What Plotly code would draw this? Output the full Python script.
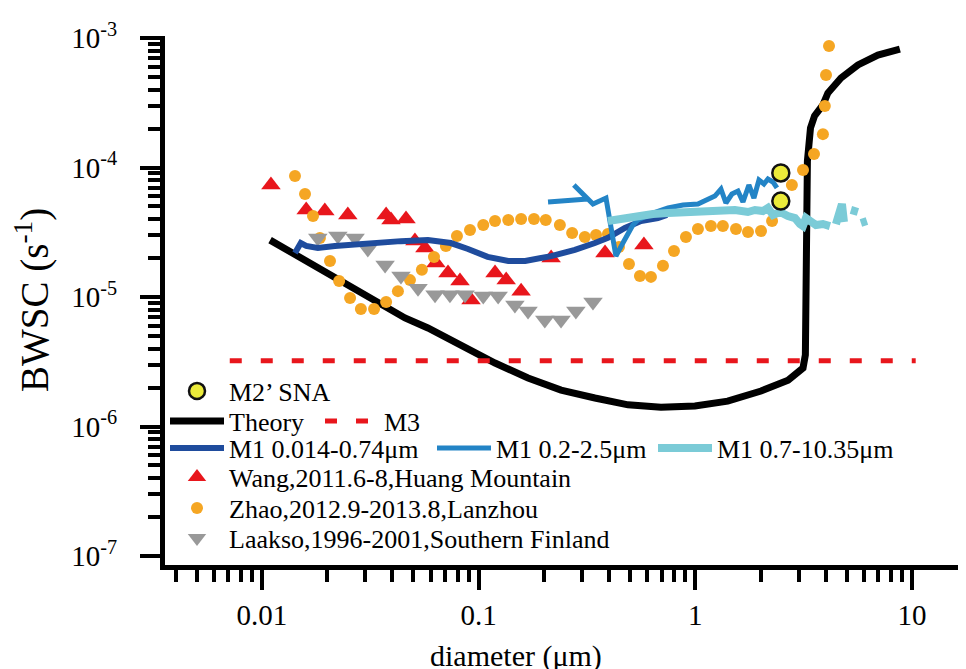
import plotly.graph_objects as go

# ---------------- data ----------------
theory_d = [0.0109, 0.0224, 0.0457, 0.0583, 0.0828, 0.119, 0.169, 0.240, 0.344, 0.489,
            0.694, 0.996, 1.41, 2.01, 2.68, 3.14, 3.22, 3.23, 3.24, 3.26, 3.29, 3.40,
            3.55, 3.88, 4.09, 4.70, 5.63, 6.96, 8.79]
theory_v = [2.75e-5, 1.38e-5, 6.89e-6, 5.77e-6, 4.26e-6, 3.09e-6, 2.37e-6, 1.91e-6, 1.66e-6,
            1.47e-6, 1.41e-6, 1.44e-6, 1.57e-6, 1.88e-6, 2.28e-6, 2.83e-6, 3.57e-6, 8.22e-6,
            2.0e-5, 4.61e-5, 1.12e-4, 2.02e-4, 2.50e-4, 3.04e-4, 3.76e-4, 4.91e-4, 6.19e-4,
            7.39e-4, 8.22e-4]

m3_d = [0.0071, 10.4]
m3_v = [3.22e-6, 3.22e-6]

m1a_d = [0.0142, 0.0151, 0.0160, 0.0181, 0.0217, 0.0308, 0.0438, 0.0583, 0.0744, 0.0893,
         0.110, 0.137, 0.164, 0.216, 0.278, 0.344, 0.395, 0.473, 0.561, 0.672, 0.740]
m1a_v = [2.19e-5, 2.61e-5, 2.48e-5, 2.39e-5, 2.48e-5, 2.61e-5, 2.70e-5, 2.75e-5, 2.61e-5,
         2.35e-5, 2.04e-5, 1.90e-5, 1.90e-5, 2.07e-5, 2.31e-5, 2.61e-5, 2.86e-5, 3.41e-5,
         3.86e-5, 4.07e-5, 4.30e-5]

m1b_d = [0.209, 0.258, 0.319, 0.275, 0.337, 0.387, 0.412, 0.430, 0.463, 0.515, 0.543, 0.637,
         0.748, 0.877, 1.028, 1.143, 1.231, 1.313, 1.384, 1.475, 1.573, 1.659, 1.767, 1.864,
         1.966, 2.073, 2.163, 2.281, 2.380]
m1b_v = [5.41e-5, 5.51e-5, 5.71e-5, 7.33e-5, 5.22e-5, 5.81e-5, 3.12e-5, 2.07e-5, 2.61e-5,
         3.60e-5, 3.93e-5, 4.45e-5, 4.87e-5, 5.13e-5, 5.22e-5, 5.61e-5, 6.02e-5, 6.82e-5,
         5.32e-5, 6.24e-5, 6.58e-5, 5.41e-5, 7.33e-5, 5.81e-5, 8.01e-5, 7.46e-5, 8.15e-5,
         7.73e-5, 6.95e-5]

m1c_d = [0.395, 0.463, 0.526, 0.637, 0.748, 0.877, 1.061, 1.271, 1.523, 1.748, 1.884, 2.051,
         2.163, 2.281, 2.457, 2.675, 2.882, 3.039, 3.137, 3.239, 3.417, 3.602, 3.880, 4.180,
         None, 4.456, 4.749, 4.851, None, 5.224, 5.627, None, 5.810, 6.193]
m1c_v = [3.86e-5, 4.07e-5, 4.22e-5, 4.37e-5, 4.45e-5, 4.53e-5, 4.61e-5, 4.61e-5, 4.70e-5,
         4.53e-5, 4.70e-5, 4.61e-5, 4.87e-5, 4.30e-5, 4.53e-5, 4.22e-5, 4.07e-5, 3.66e-5,
         3.53e-5, 4.07e-5, 3.79e-5, 3.60e-5, 3.66e-5, 3.53e-5, None, 3.66e-5, 5.22e-5,
         3.79e-5, None, 4.70e-5, 4.53e-5, None, 3.73e-5, 3.86e-5]

sna_d = [2.48, 2.48]
sna_v = [9.07e-5, 5.51e-5]

wang_d = [0.0110, 0.0160, 0.0195, 0.0249, 0.0374, 0.0394, 0.0462, 0.0508, 0.0565, 0.0635,
          0.0722, 0.0820, 0.0922, 0.119, 0.134, 0.157, 0.216, 0.383, 0.579]
wang_v = [7.33e-5, 4.70e-5, 4.61e-5, 4.30e-5, 4.30e-5, 3.93e-5, 4.00e-5, 2.71e-5, 2.39e-5,
          1.83e-5, 1.53e-5, 1.33e-5, 9.48e-6, 1.53e-5, 1.35e-5, 1.11e-5, 2.00e-5, 2.19e-5,
          2.52e-5]

zhao_d = [0.0142, 0.0158, 0.0172, 0.0185, 0.0206, 0.0227, 0.0255, 0.0286, 0.0329, 0.0374,
          0.0424, 0.0482, 0.0547, 0.0622, 0.0706, 0.0794, 0.0912, 0.105, 0.119, 0.137,
          0.157, 0.180, 0.204, 0.237, 0.270, 0.309, 0.348, 0.395, 0.444, 0.494, 0.555,
          0.624, 0.709, 0.797, 0.905, 1.028, 1.18, 1.34, 1.54, 1.75, 2.01, 2.26, 2.79,
          3.14, 3.53, 3.88, 3.96, 4.01, 4.14]
zhao_v = [8.60e-5, 6.24e-5, 4.22e-5, 2.86e-5, 1.90e-5, 1.33e-5, 9.82e-6, 8.08e-6, 8.08e-6,
          9.15e-6, 1.11e-5, 1.35e-5, 1.62e-5, 2.04e-5, 2.48e-5, 2.96e-5, 3.29e-5, 3.60e-5,
          3.86e-5, 3.93e-5, 4.00e-5, 4.00e-5, 3.93e-5, 3.60e-5, 3.12e-5, 2.91e-5, 3.01e-5,
          3.07e-5, 2.43e-5, 1.80e-5, 1.45e-5, 1.43e-5, 1.74e-5, 2.27e-5, 2.91e-5, 3.35e-5,
          3.53e-5, 3.53e-5, 3.35e-5, 3.18e-5, 3.23e-5, 3.86e-5, 7.33e-5, 9.56e-5, 1.27e-4,
          1.81e-4, 2.98e-4, 5.18e-4, 8.68e-4]

laakso_d = [0.0181, 0.0224, 0.0269, 0.0308, 0.0370, 0.0438, 0.0525, 0.0629, 0.0737, 0.0865,
            0.105, 0.123, 0.147, 0.169, 0.202, 0.240, 0.281, 0.337]
laakso_v = [2.86e-5, 2.96e-5, 2.86e-5, 2.35e-5, 1.77e-5, 1.45e-5, 1.17e-5, 1.04e-5, 1.04e-5,
            1.04e-5, 1.02e-5, 1.02e-5, 8.67e-6, 7.80e-6, 6.64e-6, 6.64e-6, 7.80e-6, 9.15e-6]

x_tickvals = [0.01, 0.1, 1, 10]
x_ticktext = ["0.01", "0.1", "1", "10"]
y_tickvals = [1e-7, 1e-6, 1e-5, 1e-4, 1e-3]
y_ticktext = ["10<sup>-7</sup>", "10<sup>-6</sup>", "10<sup>-5</sup>",
              "10<sup>-4</sup>", "10<sup>-3</sup>"]
x_title = "diameter (μm)"
y_title = "BWSC (s<sup>-1</sup>)"

x_minor = [k * 10.0 ** e for e in (-3, -2, -1, 0, 1) for k in range(2, 10)]
y_minor = [k * 10.0 ** e for e in (-7, -6, -5, -4) for k in range(2, 10)]

# ---------------- figure ----------------
FONT = "Liberation Serif"
W, H = 966, 669
ML, MR, MT, MB = 157, 0, 28, 112
PW, PH = W - ML - MR, H - MT - MB

fig = go.Figure()

fig.add_trace(go.Scatter(x=theory_d, y=theory_v, mode="lines", name="Theory",
                         line=dict(color="#000000", width=7), legend="legend2",
                         legendwidth=86))
fig.add_trace(go.Scatter(x=m3_d, y=m3_v, mode="lines", name="M3",
                         line=dict(color="#E8161C", width=5, dash="12px,19px"),
                         legend="legend2"))
fig.add_trace(go.Scatter(x=wang_d, y=wang_v, mode="markers",
                         name="Wang,2011.6-8,Huang Mountain",
                         marker=dict(symbol="triangle-up", size=17, color="#E8161C"),
                         legend="legend4"))
fig.add_trace(go.Scatter(x=zhao_d, y=zhao_v, mode="markers",
                         name="Zhao,2012.9-2013.8,Lanzhou",
                         marker=dict(symbol="circle", size=12, color="#F5A623"),
                         legend="legend5"))
fig.add_trace(go.Scatter(x=laakso_d, y=laakso_v, mode="markers",
                         name="Laakso,1996-2001,Southern Finland",
                         marker=dict(symbol="triangle-down", size=17, color="#999999"),
                         legend="legend6"))
fig.add_trace(go.Scatter(x=m1a_d, y=m1a_v, mode="lines", name="M1 0.014-0.74μm",
                         line=dict(color="#1F4C9D", width=6), legend="legend3",
                         legendwidth=198))
fig.add_trace(go.Scatter(x=m1b_d, y=m1b_v, mode="lines", name="M1 0.2-2.5μm",
                         line=dict(color="#2384C6", width=5), legend="legend3",
                         legendwidth=152))
fig.add_trace(go.Scatter(x=m1c_d, y=m1c_v, mode="lines", name="M1 0.7-10.35μm",
                         line=dict(color="#7BCBD7", width=8), legend="legend3"))
fig.add_trace(go.Scatter(x=sna_d, y=sna_v, mode="markers", name="M2’ SNA",
                         marker=dict(symbol="circle", size=17, color="#EBEA3A",
                                     line=dict(color="#111111", width=2.5)),
                         legend="legend"))

axis_common = dict(showline=True, linewidth=5, linecolor="black", ticks="outside",
                   ticklen=20, tickwidth=4, tickcolor="black", showgrid=False,
                   zeroline=False, tickfont=dict(family=FONT, size=29, color="black"))

fig.update_xaxes(type="log", range=[-2.4476, 1.2861], tickmode="array",
                 tickvals=x_tickvals, ticktext=x_ticktext,
                 minor=dict(ticks="outside", ticklen=12, tickwidth=3.5, tickcolor="black",
                            tickmode="array", tickvals=x_minor, showgrid=False),
                 **axis_common)
fig.update_yaxes(type="log", range=[-7.0695, -2.9846], tickmode="array",
                 tickvals=y_tickvals, ticktext=y_ticktext,
                 minor=dict(ticks="outside", ticklen=12, tickwidth=3.5, tickcolor="black",
                            tickmode="array", tickvals=y_minor, showgrid=False),
                 ticklabelstandoff=17,
                 **axis_common)


def leg(px_x, px_y):
    return dict(x=(px_x - ML) / PW, y=(H - MB - px_y) / PH, xref="paper", yref="paper",
                xanchor="left", yanchor="middle", orientation="h", itemwidth=54,
                bgcolor="rgba(0,0,0,0)", borderwidth=0,
                font=dict(family=FONT, size=26, color="black"))


def px_x(p):
    return (p - ML) / PW


def px_y(p):
    return (H - MB - p) / PH


fig.add_annotation(text=x_title, xref="paper", yref="paper", x=px_x(508), y=px_y(648),
                   xanchor="center", yanchor="middle", showarrow=False,
                   font=dict(family=FONT, size=30, color="black"))
fig.add_annotation(text=y_title, xref="paper", yref="paper", x=px_x(24), y=px_y(292),
                   xanchor="center", yanchor="middle", showarrow=False, textangle=-90,
                   font=dict(family=FONT, size=39, color="black"))

fig.update_layout(
    width=W, height=H,
    margin=dict(l=ML, r=MR, t=MT, b=MB, autoexpand=False),
    plot_bgcolor="white", paper_bgcolor="white",
    font=dict(family=FONT, color="black"),
    showlegend=True,
    legend=leg(157, 383),
    legend2=leg(157, 413),
    legend3=leg(157, 440),
    legend4=leg(157, 469),
    legend5=leg(157, 500),
    legend6=leg(157, 530),
)

fig.write_html("out.html")
